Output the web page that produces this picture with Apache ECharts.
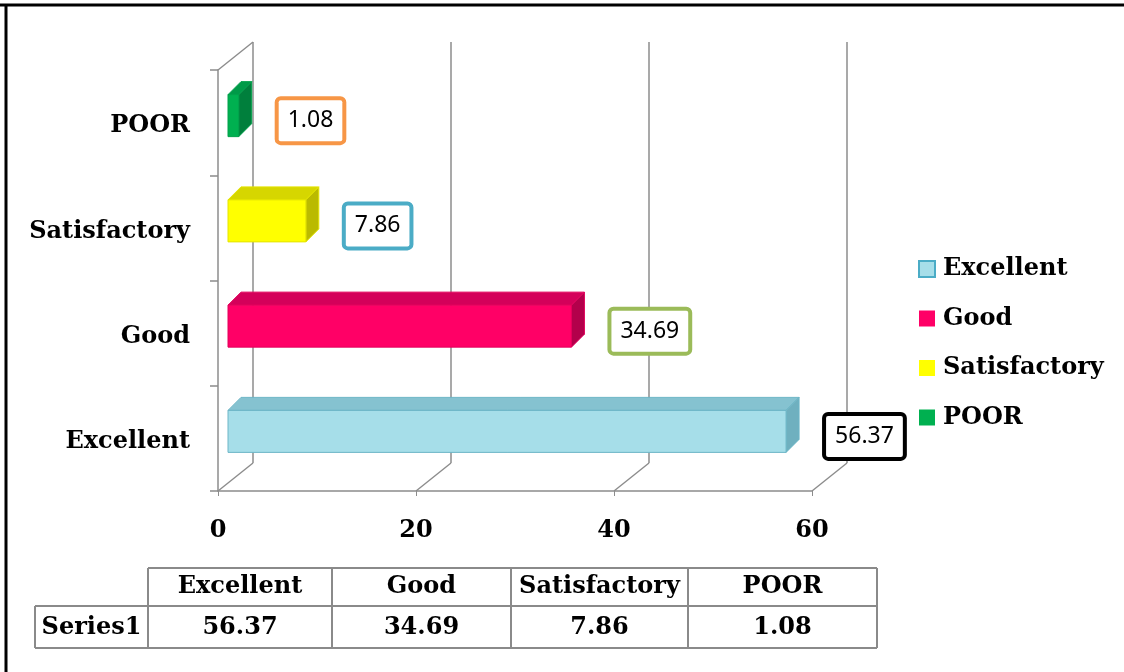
<!DOCTYPE html>
<html>
<head>
<meta charset="utf-8">
<script src="https://cdn.jsdelivr.net/npm/echarts@6/dist/echarts.min.js"></script>
<style>
html, body { margin: 0; padding: 0; background: #fff; }
#main { width: 1124px; height: 672px; }
</style>
</head>
<body>
<div id="main"></div>
<script>
// data
var categories = ['Excellent', 'Good', 'Satisfactory', 'POOR'];
var values = [56.37, 34.69, 7.86, 1.08];
var xTicks = [0, 20, 40, 60];
var rowName = 'Series1';

var serif = '"DejaVu Serif", serif';
var gridColor = '#8c8c8c';

// colours of the 3d bar faces and the label boxes
var faces = [
    { front: '#A6DEE9', top: '#85C2D0', side: '#6FB0BF', edge: '#6DB6C7', box: '#000000' },
    { front: '#FF0066', top: '#D4005A', side: '#B3004B', edge: '#E2005B', box: '#9BBB59' },
    { front: '#FFFF00', top: '#D6D600', side: '#BABA00', edge: '#E4E400', box: '#4BACC6' },
    { front: '#00B050', top: '#009A48', side: '#007F3C', edge: '#00A04A', box: '#F79646' }
];

var DX = 35, DY = 28;   // depth of the walls
var BX = 13, BY = 13;   // depth of the bars

function renderBar(params, api) {
    var i = api.value(1);
    var s = faces[i];
    var p0 = api.coord([0, i]);
    var p1 = api.coord([api.value(0), i]);
    var x0 = p0[0] + 10, x1 = p1[0] + 10;
    var yc = p0[1] - 7, yt = yc - 21, yb = yc + 21;
    return {
        type: 'group',
        children: [
            { type: 'polygon', shape: { points: [[x0, yt], [x1, yt], [x1 + BX, yt - BY], [x0 + BX, yt - BY]] },
              style: { fill: s.top, stroke: s.edge, lineWidth: 1 } },
            { type: 'polygon', shape: { points: [[x1, yt], [x1 + BX, yt - BY], [x1 + BX, yb - BY], [x1, yb]] },
              style: { fill: s.side, stroke: s.edge, lineWidth: 1 } },
            { type: 'rect', shape: { x: x0, y: yt, width: x1 - x0, height: yb - yt },
              style: { fill: s.front, stroke: s.edge, lineWidth: 1 } },
            { type: 'text', x: x1 + 40, y: yc + 5,
              style: {
                  text: String(values[i]), font: '23px "Noto Sans"', fill: '#000',
                  align: 'left', verticalAlign: 'middle',
                  backgroundColor: '#fff', borderColor: s.box, borderWidth: 4,
                  borderRadius: 2, padding: [10, 9, 8, 9]
              } }
        ]
    };
}

// floor diagonals and the top edge of the side wall
function renderFrame(params, api) {
    var v = api.value(0);
    var cs = params.coordSys;
    var x = api.coord([v, 0])[0];
    var yb = cs.y + cs.height;
    var kids = [{ type: 'line', shape: { x1: x, y1: yb, x2: x + DX, y2: yb - DY },
                  style: { stroke: gridColor, lineWidth: 1.5 } }];
    if (v === 0) {
        kids.push({ type: 'line', shape: { x1: x, y1: cs.y, x2: x + DX, y2: cs.y - DY },
                    style: { stroke: gridColor, lineWidth: 1.5 } });
    }
    return { type: 'group', children: kids };
}

var series = [{
    type: 'custom',
    coordinateSystem: 'cartesian2d',
    xAxisIndex: 1, yAxisIndex: 1,
    silent: true, z: 1,
    renderItem: renderFrame,
    encode: { x: 0, y: 1 },
    data: xTicks.map(function (v) { return [v, 0]; })
}];

categories.forEach(function (c, i) {
    series.push({
        name: c,
        type: 'custom',
        coordinateSystem: 'cartesian2d',
        xAxisIndex: 1, yAxisIndex: 1,
        z: 3,
        itemStyle: { color: faces[i].front },
        renderItem: renderBar,
        encode: { x: 0, y: 1 },
        data: [[values[i], i]]
    });
});

// data table under the chart
var tableCols = [148, 332, 511, 688, 877];
var tableRows = [568, 606, 648];
var tableLeft = 35;
var tableFont = 'bold 24px ' + serif;
var lineStyle = { stroke: '#8a8a8a', lineWidth: 2 };

var graphic = [
    { type: 'line', shape: { x1: 0, y1: 5, x2: 1124, y2: 5 }, style: { stroke: '#000', lineWidth: 3 } },
    { type: 'line', shape: { x1: 6, y1: 5, x2: 6, y2: 672 }, style: { stroke: '#000', lineWidth: 3 } },
    { type: 'line', shape: { x1: tableCols[0], y1: tableRows[0], x2: tableCols[4], y2: tableRows[0] }, style: lineStyle },
    { type: 'line', shape: { x1: tableLeft, y1: tableRows[1], x2: tableCols[4], y2: tableRows[1] }, style: lineStyle },
    { type: 'line', shape: { x1: tableLeft, y1: tableRows[2], x2: tableCols[4], y2: tableRows[2] }, style: lineStyle },
    { type: 'line', shape: { x1: tableLeft, y1: tableRows[1], x2: tableLeft, y2: tableRows[2] }, style: lineStyle },
    { type: 'text', x: (tableLeft + tableCols[0]) / 2, y: (tableRows[1] + tableRows[2]) / 2 + 1,
      style: { text: rowName, font: tableFont, fill: '#000', align: 'center', verticalAlign: 'middle' } }
];
tableCols.forEach(function (x) {
    graphic.push({ type: 'line', shape: { x1: x, y1: tableRows[0], x2: x, y2: tableRows[2] }, style: lineStyle });
});
categories.forEach(function (c, i) {
    var cx = (tableCols[i] + tableCols[i + 1]) / 2;
    graphic.push({ type: 'text', x: cx, y: (tableRows[0] + tableRows[1]) / 2,
        style: { text: c, font: tableFont, fill: '#000', align: 'center', verticalAlign: 'middle' } });
    graphic.push({ type: 'text', x: cx, y: (tableRows[1] + tableRows[2]) / 2 + 1,
        style: { text: values[i].toFixed(2), font: tableFont, fill: '#000', align: 'center', verticalAlign: 'middle' } });
});

var myChart = echarts.init(document.getElementById('main'));

var option = {
    animation: false,
    backgroundColor: '#fff',
    grid: [
        { left: 253, top: 42, width: 594, height: 421 },   // back wall
        { left: 218, top: 70, width: 594, height: 421 }    // front
    ],
    xAxis: [
        { gridIndex: 0, type: 'value', min: 0, max: 60, interval: 20,
          axisLine: { show: false }, axisTick: { show: false }, axisLabel: { show: false },
          splitLine: { show: true, lineStyle: { color: gridColor, width: 1.5 } } },
        { gridIndex: 1, type: 'value', min: 0, max: 60, interval: 20,
          axisLine: { show: true, lineStyle: { color: gridColor, width: 1.5 } },
          axisTick: { show: true, length: 5, lineStyle: { color: gridColor } },
          splitLine: { show: false },
          axisLabel: { margin: 28, color: '#000', fontSize: 24, fontWeight: 'bold', fontFamily: serif } }
    ],
    yAxis: [
        { gridIndex: 0, type: 'value', show: false },
        { gridIndex: 1, type: 'category', data: categories,
          axisLine: { show: true, lineStyle: { color: gridColor, width: 1.5 } },
          axisTick: { show: true, length: 8, lineStyle: { color: gridColor, width: 1.5 } },
          axisLabel: { margin: 28, formatter: '{c|{value}}',
                       rich: { c: { color: '#000', fontSize: 24, fontWeight: 'bold', fontFamily: serif,
                                    padding: [7, 0, 0, 0] } } } }
    ],
    legend: {
        orient: 'vertical',
        left: 918, top: 257,
        padding: 0,
        icon: 'rect',
        itemWidth: 16, itemHeight: 16,
        itemGap: 25.5,
        selectedMode: false,
        textStyle: { color: '#000', fontSize: 24, fontWeight: 'bold', fontFamily: serif,
                     lineHeight: 24, padding: [0, 0, 0, 3] },
        data: categories.map(function (c, i) {
            return { name: c, itemStyle: { color: faces[i].front,
                     borderColor: i === 0 ? '#4BACC6' : faces[i].front, borderWidth: i === 0 ? 2 : 0 } };
        })
    },
    graphic: graphic,
    series: series
};

myChart.setOption(option);
</script>
</body>
</html>
